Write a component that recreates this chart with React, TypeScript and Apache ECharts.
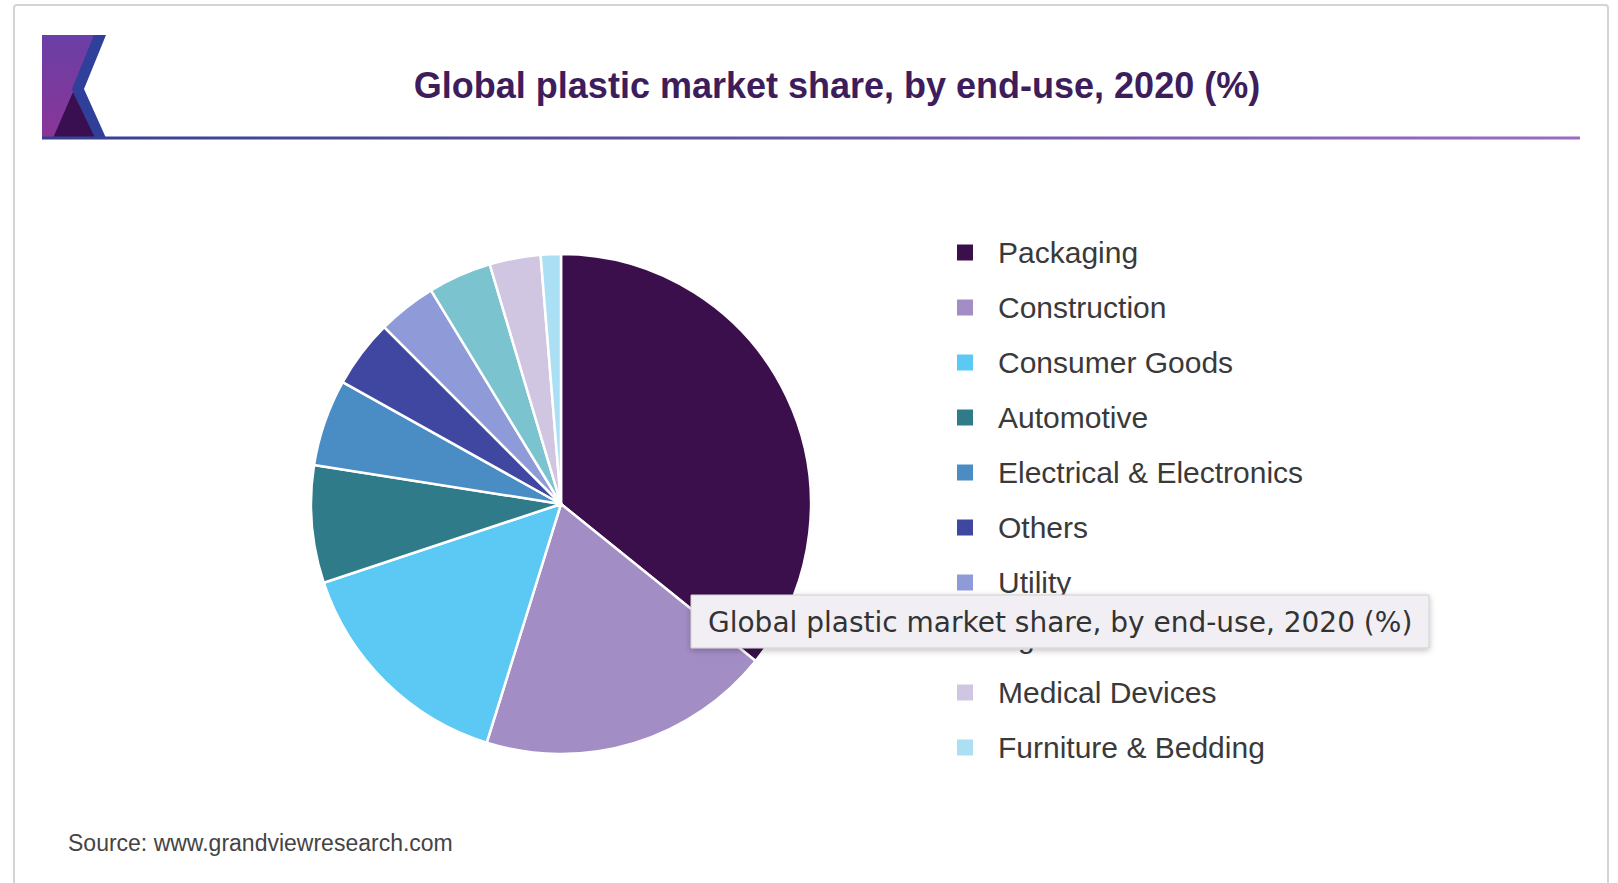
import React, { useEffect, useRef } from "react";
import * as echarts from "echarts";

const categories = [
  "Packaging",
  "Construction",
  "Consumer Goods",
  "Automotive",
  "Electrical & Electronics",
  "Others",
  "Utility",
  "Agriculture",
  "Medical Devices",
  "Furniture & Bedding",
];
const shares = [35.8, 19.0, 15.1, 7.6, 5.6, 4.4, 3.8, 4.1, 3.3, 1.3];
const colors = [
  "#3b0f4b",
  "#a38dc5",
  "#5bc9f3",
  "#2f7b8a",
  "#4a8dc5",
  "#3f47a1",
  "#8f9bd9",
  "#7bc3cf",
  "#d0c6e1",
  "#aadff4",
];
const titleText = "Global plastic market share, by end-use, 2020 (%)";
const sourceText = "Source: www.grandviewresearch.com";

export default function App() {
  const ref = useRef<HTMLDivElement>(null);
  useEffect(() => {
    if (!ref.current) return;
    const chart = echarts.init(ref.current, undefined, { renderer: "svg" });
    chart.setOption({
      animation: false,
      backgroundColor: "#ffffff",
      color: colors,
      legend: {
        orient: "vertical",
        left: 950,
        top: 230,
        icon: "rect",
        itemWidth: 18,
        itemHeight: 18,
        itemGap: 20,
        selectedMode: false,
        data: categories,
        textStyle: {
          fontFamily: "Liberation Sans, Arial, sans-serif",
          fontSize: 30,
          lineHeight: 35,
          color: "#3a3a3a",
          padding: [0, 0, 0, 19],
        },
      },
      series: [
        {
          type: "pie",
          center: [561, 504],
          radius: [0, 250],
          startAngle: 90,
          clockwise: true,
          label: { show: false },
          labelLine: { show: false },
          silent: true,
          itemStyle: { borderColor: "#ffffff", borderWidth: 2.5 },
          data: categories.map((name, i) => ({ name, value: shares[i] })),
        },
      ],
      graphic: [
        {
          type: "rect",
          z: -10,
          shape: { x: 14, y: 5, width: 1594, height: 900, r: 3 },
          style: { fill: "#ffffff", stroke: "#d4d4d4", lineWidth: 2 },
        },
        {
          type: "polygon",
          shape: {
            points: [
              [42, 35],
              [100, 35],
              [76, 89],
              [100, 138],
              [42, 138],
            ],
          },
          style: {
            fill: new echarts.graphic.LinearGradient(0, 0, 0, 1, [
              { offset: 0, color: "#6a3fa6" },
              { offset: 1, color: "#8a3597" },
            ]),
          },
        },
        {
          type: "polygon",
          shape: {
            points: [
              [94, 35],
              [106, 35],
              [84, 89],
              [106, 138],
              [94, 138],
              [72, 89],
            ],
          },
          style: { fill: "#2f3f9a" },
        },
        {
          type: "polygon",
          shape: {
            points: [
              [53, 138],
              [73, 92],
              [95, 138],
            ],
          },
          style: { fill: "#3a0f52" },
        },
        {
          type: "rect",
          shape: { x: 42, y: 136.5, width: 1538, height: 3 },
          style: {
            fill: new echarts.graphic.LinearGradient(0, 0, 1, 0, [
              { offset: 0, color: "#34408f" },
              { offset: 1, color: "#9d6cbc" },
            ]),
          },
        },
        {
          type: "text",
          x: 837,
          y: 85,
          style: {
            text: titleText,
            fontFamily: "Liberation Sans, Arial, sans-serif",
            fontWeight: "bold",
            fontSize: 36,
            fill: "#3d1d5c",
            textAlign: "center",
            textVerticalAlign: "middle",
          },
        },
        {
          type: "text",
          x: 68,
          y: 843,
          style: {
            text: sourceText,
            fontFamily: "Liberation Sans, Arial, sans-serif",
            fontSize: 23,
            fill: "#444444",
            textAlign: "left",
            textVerticalAlign: "middle",
          },
        },
        {
          type: "rect",
          z: 100,
          shape: { x: 691, y: 595, width: 738, height: 53 },
          style: {
            fill: "#f1eff3",
            stroke: "#cfcfcf",
            lineWidth: 1,
            shadowBlur: 6,
            shadowOffsetY: 2,
            shadowColor: "rgba(0,0,0,0.25)",
          },
        },
        {
          type: "text",
          z: 101,
          x: 708,
          y: 622,
          style: {
            text: titleText,
            fontFamily: "DejaVu Sans, sans-serif",
            fontSize: 28,
            fill: "#333333",
            textAlign: "left",
            textVerticalAlign: "middle",
          },
        },
      ],
    });
    return () => chart.dispose();
  }, []);
  return (
    <div
      ref={ref}
      style={{ position: "fixed", left: 0, top: 0, width: 1618, height: 883 }}
    />
  );
}
